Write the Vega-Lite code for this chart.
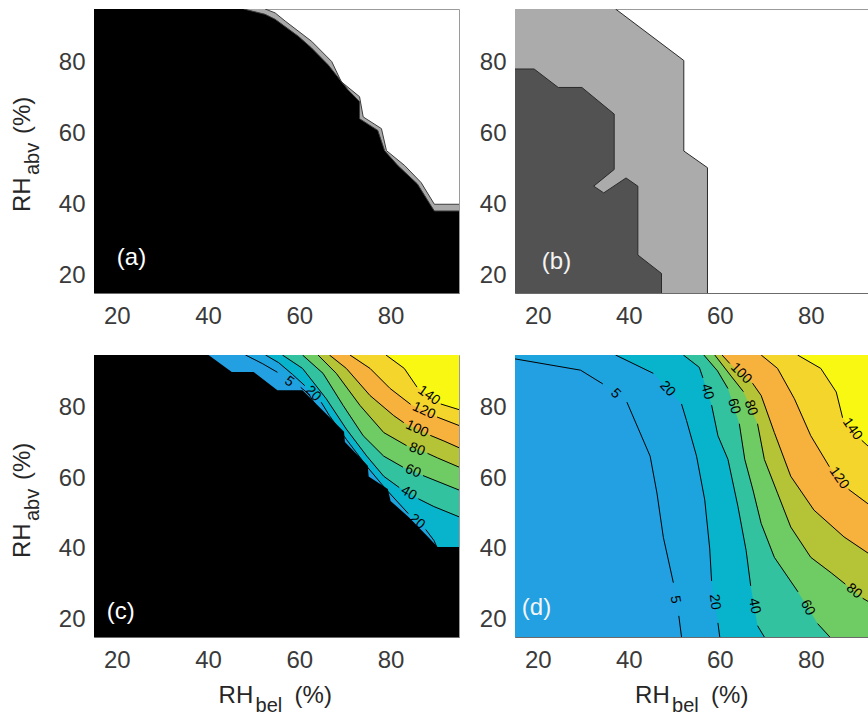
{
"$schema": "https://vega.github.io/schema/vega-lite/v6.json",
"padding": {"left": 10, "top": 8, "right": 0, "bottom": 0},
"columns": 2,
"spacing": {"row": 62, "column": 56},
"bounds": "flush",
"resolve": {"scale": {"fill": "independent"}},
"datasets": {
"pa": [
{"g":"G","i":1,"x":52.5,"y":95,"e":1},{"g":"G","i":2,"x":54.7,"y":93.9,"e":1},{"g":"G","i":3,"x":56.9,"y":91.6,"e":1},{"g":"G","i":4,"x":62.7,"y":85.9,"e":1},{"g":"G","i":5,"x":67.1,"y":80.2,"e":1},{"g":"G","i":6,"x":69.2,"y":74.5,"e":1},{"g":"G","i":7,"x":73.2,"y":70.3,"e":1},{"g":"G","i":8,"x":74.0,"y":64.6,"e":1},{"g":"G","i":9,"x":78.0,"y":61.3,"e":1},{"g":"G","i":10,"x":79.1,"y":55.1,"e":1},{"g":"G","i":11,"x":83.1,"y":50.9,"e":1},{"g":"G","i":12,"x":86.7,"y":46.1,"e":1},{"g":"G","i":13,"x":89.6,"y":40.0,"e":1},{"g":"G","i":14,"x":95,"y":40.0,"e":1},{"g":"G","i":15,"x":95,"y":15,"e":0},{"g":"G","i":16,"x":15,"y":15,"e":0},{"g":"G","i":17,"x":15,"y":95,"e":0},
{"g":"K","i":1,"x":47.8,"y":95,"e":1},{"g":"K","i":2,"x":52.5,"y":93.5,"e":1},{"g":"K","i":3,"x":54.7,"y":92.1,"e":1},{"g":"K","i":4,"x":59.8,"y":87.3,"e":1},{"g":"K","i":5,"x":62.7,"y":84.0,"e":1},{"g":"K","i":6,"x":66.3,"y":79.3,"e":1},{"g":"K","i":7,"x":70.7,"y":72.2,"e":1},{"g":"K","i":8,"x":73.2,"y":68.9,"e":1},{"g":"K","i":9,"x":73.2,"y":64.1,"e":1},{"g":"K","i":10,"x":77.2,"y":60.8,"e":1},{"g":"K","i":11,"x":78.7,"y":55.1,"e":1},{"g":"K","i":12,"x":81.6,"y":50.9,"e":1},{"g":"K","i":13,"x":85.9,"y":45.7,"e":1},{"g":"K","i":14,"x":88.9,"y":39.5,"e":1},{"g":"K","i":15,"x":89.6,"y":38.1,"e":1},{"g":"K","i":16,"x":95,"y":38.1,"e":1},{"g":"K","i":17,"x":95,"y":15,"e":0},{"g":"K","i":18,"x":15,"y":15,"e":0},{"g":"K","i":19,"x":15,"y":95,"e":0}
],
"pb": [
{"g":"L","i":1,"x":37.1,"y":95,"e":1},{"g":"L","i":2,"x":52.1,"y":80.5,"e":1},{"g":"L","i":3,"x":52.1,"y":55.0,"e":1},{"g":"L","i":4,"x":57.3,"y":50.3,"e":1},{"g":"L","i":5,"x":57.3,"y":15,"e":1},{"g":"L","i":6,"x":15,"y":15,"e":0},{"g":"L","i":7,"x":15,"y":95,"e":0},
{"g":"D","i":1,"x":15,"y":78.1,"e":1},{"g":"D","i":2,"x":19.2,"y":78.1,"e":1},{"g":"D","i":3,"x":24.5,"y":72.9,"e":1},{"g":"D","i":4,"x":29.7,"y":72.9,"e":1},{"g":"D","i":5,"x":36.8,"y":65.4,"e":1},{"g":"D","i":6,"x":36.8,"y":49.8,"e":1},{"g":"D","i":7,"x":32.3,"y":45.1,"e":1},{"g":"D","i":8,"x":34.5,"y":43.2,"e":1},{"g":"D","i":9,"x":39.4,"y":47.4,"e":1},{"g":"D","i":10,"x":42.0,"y":45.1,"e":1},{"g":"D","i":11,"x":42.0,"y":25.7,"e":1},{"g":"D","i":12,"x":47.2,"y":20.5,"e":1},{"g":"D","i":13,"x":47.2,"y":15,"e":1},{"g":"D","i":14,"x":15,"y":15,"e":0}
],
"pc": [
{"c":0,"s":0,"i":1,"x":15,"y":15},{"c":0,"s":0,"i":2,"x":95,"y":15},{"c":0,"s":0,"i":3,"x":95,"y":95},{"c":0,"s":0,"i":4,"x":15,"y":95},
{"c":5,"s":1,"i":1,"x":48.2,"y":95},{"c":5,"s":1,"i":2,"x":52,"y":92.5},{"c":5,"s":1,"i":3,"x":55.2,"y":90.1},{"c":5,"s":2,"i":4,"x":60.3,"y":85.8},{"c":5,"s":2,"i":5,"x":62,"y":84},{"c":5,"s":2,"i":6,"x":64,"y":80},{"c":5,"s":0,"i":7,"x":95,"y":15},{"c":5,"s":0,"i":8,"x":95,"y":95},
{"c":20,"s":1,"i":1,"x":52.6,"y":95},{"c":20,"s":1,"i":2,"x":55.5,"y":92.8},{"c":20,"s":1,"i":3,"x":58.5,"y":89.5},{"c":20,"s":1,"i":4,"x":61.2,"y":86.3},{"c":20,"s":2,"i":5,"x":64.8,"y":81.6},{"c":20,"s":2,"i":6,"x":66.6,"y":77.8},{"c":20,"s":2,"i":7,"x":70.3,"y":71.1},{"c":20,"s":2,"i":8,"x":74.8,"y":63.4},{"c":20,"s":2,"i":9,"x":78.8,"y":57.2},{"c":20,"s":2,"i":10,"x":83.9,"y":50},{"c":20,"s":3,"i":11,"x":87.7,"y":45.5},{"c":20,"s":3,"i":12,"x":89.5,"y":42.4},{"c":20,"s":3,"i":13,"x":91,"y":38},{"c":20,"s":0,"i":14,"x":95,"y":15},{"c":20,"s":0,"i":15,"x":95,"y":95},
{"c":40,"s":1,"i":1,"x":56.3,"y":95},{"c":40,"s":1,"i":2,"x":60.7,"y":91.2},{"c":40,"s":1,"i":3,"x":65.9,"y":82.6},{"c":40,"s":1,"i":4,"x":70.3,"y":74},{"c":40,"s":1,"i":5,"x":74.8,"y":66.3},{"c":40,"s":1,"i":6,"x":78.5,"y":60.6},{"c":40,"s":1,"i":7,"x":81.9,"y":57.4},{"c":40,"s":2,"i":8,"x":86.1,"y":54.2},{"c":40,"s":2,"i":9,"x":89.5,"y":52},{"c":40,"s":2,"i":10,"x":95,"y":49.1},{"c":40,"s":0,"i":11,"x":95,"y":95},
{"c":60,"s":1,"i":1,"x":60.7,"y":95},{"c":60,"s":1,"i":2,"x":65.2,"y":89.8},{"c":60,"s":1,"i":3,"x":69.6,"y":80.7},{"c":60,"s":1,"i":4,"x":74,"y":72.1},{"c":60,"s":1,"i":5,"x":78.5,"y":66.3},{"c":60,"s":1,"i":6,"x":82.7,"y":63.2},{"c":60,"s":2,"i":7,"x":87.1,"y":60.8},{"c":60,"s":2,"i":8,"x":95,"y":56.7},{"c":60,"s":0,"i":9,"x":95,"y":95},
{"c":80,"s":1,"i":1,"x":64.1,"y":95},{"c":80,"s":1,"i":2,"x":68.1,"y":89.8},{"c":80,"s":1,"i":3,"x":73.3,"y":80.7},{"c":80,"s":1,"i":4,"x":78.5,"y":73},{"c":80,"s":1,"i":5,"x":83.5,"y":69.3},{"c":80,"s":2,"i":6,"x":88.1,"y":67.1},{"c":80,"s":2,"i":7,"x":90.3,"y":65.8},{"c":80,"s":2,"i":8,"x":95,"y":63.2},{"c":80,"s":0,"i":9,"x":95,"y":95},
{"c":100,"s":1,"i":1,"x":66.6,"y":95},{"c":100,"s":1,"i":2,"x":70.3,"y":91.2},{"c":100,"s":1,"i":3,"x":75.5,"y":83.5},{"c":100,"s":1,"i":4,"x":80.7,"y":77.8},{"c":100,"s":1,"i":5,"x":82.9,"y":75.8},{"c":100,"s":2,"i":6,"x":88.7,"y":72.2},{"c":100,"s":2,"i":7,"x":91.7,"y":70.6},{"c":100,"s":2,"i":8,"x":95,"y":68.7},{"c":100,"s":0,"i":9,"x":95,"y":95},
{"c":120,"s":1,"i":1,"x":71.1,"y":95},{"c":120,"s":1,"i":2,"x":75.5,"y":91.2},{"c":120,"s":1,"i":3,"x":79.9,"y":85.5},{"c":120,"s":1,"i":4,"x":84.4,"y":81.0},{"c":120,"s":2,"i":5,"x":90.2,"y":77.4},{"c":120,"s":2,"i":6,"x":95,"y":75.0},{"c":120,"s":0,"i":7,"x":95,"y":95},
{"c":140,"s":1,"i":1,"x":79,"y":95},{"c":140,"s":1,"i":2,"x":83,"y":91.2},{"c":140,"s":1,"i":3,"x":85.8,"y":85.9},{"c":140,"s":2,"i":4,"x":91,"y":81.1},{"c":140,"s":2,"i":5,"x":95,"y":79.5},{"c":140,"s":0,"i":6,"x":95,"y":95}
],
"pcm": [
{"i":1,"x":40.1,"y":95},{"i":2,"x":45.2,"y":90.2},{"i":3,"x":50,"y":90.2},{"i":4,"x":55.2,"y":85},{"i":5,"x":60.7,"y":85},{"i":6,"x":65.2,"y":79.2},{"i":7,"x":69.8,"y":73.2},{"i":8,"x":70,"y":70.3},{"i":9,"x":75,"y":63.6},{"i":10,"x":75.2,"y":60.5},{"i":11,"x":79.4,"y":57},{"i":12,"x":80,"y":53.6},{"i":13,"x":84,"y":49},{"i":14,"x":88.5,"y":43},{"i":15,"x":90.3,"y":40.5},{"i":16,"x":95,"y":40.5},{"i":17,"x":95,"y":15},{"i":18,"x":15,"y":15},{"i":19,"x":15,"y":95}
],
"pcl": [
{"t":"140","x":88.4,"y":83.5,"a":36},{"t":"120","x":87.3,"y":79.2,"a":25},{"t":"100","x":85.8,"y":74.0,"a":25},{"t":"80","x":85.8,"y":68.2,"a":20},{"t":"60","x":84.9,"y":62.0,"a":22},{"t":"40","x":84.0,"y":55.8,"a":30},{"t":"20","x":85.8,"y":47.7,"a":40},{"t":"5","x":57.8,"y":87.4,"a":35},{"t":"20","x":63.0,"y":84.0,"a":45}
],
"pd": [
{"c":0,"s":0,"i":1,"x":15,"y":15},{"c":0,"s":0,"i":2,"x":95,"y":15},{"c":0,"s":0,"i":3,"x":95,"y":95},{"c":0,"s":0,"i":4,"x":15,"y":95},
{"c":5,"s":1,"i":1,"x":15,"y":93.9},{"c":5,"s":1,"i":2,"x":29.4,"y":90.7},{"c":5,"s":1,"i":3,"x":34.3,"y":86.8},{"c":5,"s":2,"i":4,"x":39.6,"y":81.6},{"c":5,"s":2,"i":5,"x":44.7,"y":66.3},{"c":5,"s":2,"i":6,"x":46.2,"y":55.8},{"c":5,"s":2,"i":7,"x":47.6,"y":43.3},{"c":5,"s":2,"i":8,"x":49.8,"y":30.4},{"c":5,"s":3,"i":9,"x":51.0,"y":21.0},{"c":5,"s":3,"i":10,"x":51.6,"y":15},{"c":5,"s":0,"i":11,"x":95,"y":15},{"c":5,"s":0,"i":12,"x":95,"y":95},{"c":5,"s":0,"i":13,"x":15,"y":95},
{"c":20,"s":1,"i":1,"x":37.1,"y":95},{"c":20,"s":1,"i":2,"x":45.4,"y":89.8},{"c":20,"s":2,"i":3,"x":51.6,"y":81.1},{"c":20,"s":2,"i":4,"x":52.7,"y":76.4},{"c":20,"s":2,"i":5,"x":54.9,"y":66.3},{"c":20,"s":2,"i":6,"x":56.7,"y":53.9},{"c":20,"s":2,"i":7,"x":57.8,"y":40},{"c":20,"s":2,"i":8,"x":58.2,"y":30.9},{"c":20,"s":3,"i":9,"x":59.6,"y":19.0},{"c":20,"s":3,"i":10,"x":60,"y":15},{"c":20,"s":0,"i":11,"x":95,"y":15},{"c":20,"s":0,"i":12,"x":95,"y":95},
{"c":40,"s":1,"i":1,"x":52,"y":95},{"c":40,"s":1,"i":2,"x":55.5,"y":91.5},{"c":40,"s":1,"i":3,"x":56.3,"y":88.5},{"c":40,"s":2,"i":4,"x":58.2,"y":80.8},{"c":40,"s":2,"i":5,"x":59.6,"y":72.1},{"c":40,"s":2,"i":6,"x":61.8,"y":65.4},{"c":40,"s":2,"i":7,"x":64,"y":52},{"c":40,"s":2,"i":8,"x":65.8,"y":39.5},{"c":40,"s":2,"i":9,"x":66.8,"y":29.5},{"c":40,"s":3,"i":10,"x":68.3,"y":18.2},{"c":40,"s":3,"i":11,"x":69.8,"y":15},{"c":40,"s":0,"i":12,"x":95,"y":15},{"c":40,"s":0,"i":13,"x":95,"y":95},
{"c":60,"s":1,"i":1,"x":56.5,"y":95},{"c":60,"s":1,"i":2,"x":59.5,"y":90.5},{"c":60,"s":1,"i":3,"x":61.8,"y":85.5},{"c":60,"s":2,"i":4,"x":64.3,"y":75.5},{"c":60,"s":2,"i":5,"x":65.5,"y":65.4},{"c":60,"s":2,"i":6,"x":67.3,"y":56.7},{"c":60,"s":2,"i":7,"x":69.1,"y":47.2},{"c":60,"s":2,"i":8,"x":72,"y":37.6},{"c":60,"s":2,"i":9,"x":77.2,"y":27.8},{"c":60,"s":3,"i":10,"x":81.5,"y":18.8},{"c":60,"s":3,"i":11,"x":84.2,"y":15},{"c":60,"s":0,"i":12,"x":95,"y":15},{"c":60,"s":0,"i":13,"x":95,"y":95},
{"c":80,"s":1,"i":1,"x":58.9,"y":95},{"c":80,"s":1,"i":2,"x":62.5,"y":89},{"c":80,"s":1,"i":3,"x":65.2,"y":84.6},{"c":80,"s":2,"i":4,"x":68.3,"y":75.5},{"c":80,"s":2,"i":5,"x":69.8,"y":65.4},{"c":80,"s":2,"i":6,"x":72.7,"y":55.8},{"c":80,"s":2,"i":7,"x":75.6,"y":46.2},{"c":80,"s":2,"i":8,"x":80,"y":37.6},{"c":80,"s":2,"i":9,"x":84.5,"y":33.2},{"c":80,"s":2,"i":10,"x":87.6,"y":30},{"c":80,"s":3,"i":11,"x":91.4,"y":26},{"c":80,"s":3,"i":12,"x":95,"y":23.3},{"c":80,"s":0,"i":13,"x":95,"y":95},
{"c":100,"s":1,"i":1,"x":60.5,"y":95},{"c":100,"s":1,"i":2,"x":62.2,"y":92.6},{"c":100,"s":2,"i":3,"x":67.2,"y":87},{"c":100,"s":2,"i":4,"x":69.1,"y":83.5},{"c":100,"s":2,"i":5,"x":72,"y":73},{"c":100,"s":2,"i":6,"x":75.6,"y":60.6},{"c":100,"s":2,"i":7,"x":80.7,"y":51},{"c":100,"s":2,"i":8,"x":87.3,"y":43.4},{"c":100,"s":2,"i":9,"x":93.4,"y":38.1},{"c":100,"s":2,"i":10,"x":95,"y":36.8},{"c":100,"s":0,"i":11,"x":95,"y":95},
{"c":120,"s":1,"i":1,"x":69.1,"y":95},{"c":120,"s":1,"i":2,"x":72.7,"y":91.2},{"c":120,"s":1,"i":3,"x":76.4,"y":82.6},{"c":120,"s":1,"i":4,"x":80,"y":72.1},{"c":120,"s":1,"i":5,"x":84.1,"y":63.3},{"c":120,"s":2,"i":6,"x":88.3,"y":56.9},{"c":120,"s":2,"i":7,"x":93.4,"y":52},{"c":120,"s":2,"i":8,"x":95,"y":50.8},{"c":120,"s":0,"i":9,"x":95,"y":95},
{"c":140,"s":1,"i":1,"x":77.1,"y":95},{"c":140,"s":1,"i":2,"x":82.2,"y":91.2},{"c":140,"s":1,"i":3,"x":85.6,"y":84.5},{"c":140,"s":1,"i":4,"x":87,"y":77.2},{"c":140,"s":2,"i":5,"x":91.2,"y":70.8},{"c":140,"s":2,"i":6,"x":93.4,"y":68.2},{"c":140,"s":2,"i":7,"x":95,"y":67.3},{"c":140,"s":0,"i":8,"x":95,"y":95}
],
"pdl": [
{"t":"5","x":37.1,"y":84.0,"a":45},{"t":"5","x":50.2,"y":25.6,"a":80},{"t":"20","x":48.5,"y":85.4,"a":47},{"t":"20","x":58.9,"y":24.9,"a":83},{"t":"40","x":57.2,"y":84.6,"a":75},{"t":"40","x":67.6,"y":23.8,"a":80},{"t":"60","x":63.1,"y":80.5,"a":75},{"t":"60","x":79.3,"y":23.3,"a":62},{"t":"80","x":66.8,"y":80.0,"a":72},{"t":"80","x":89.5,"y":28.0,"a":40},{"t":"100","x":64.7,"y":89.8,"a":45},{"t":"120","x":86.2,"y":60.1,"a":55},{"t":"140","x":89.1,"y":74.0,"a":55}
],
"ann": [
{"k":"pa","t":"(a)","x":20,"y":25},{"k":"pb","t":"(b)","x":20.9,"y":23.7},{"k":"pc","t":"(c)","x":17.8,"y":22.1},{"k":"pd","t":"(d)","x":16.5,"y":23.2},
{"k":"ya","x":1.0,"y":37.8},{"k":"yc","x":1.0,"y":37.4},{"k":"xc","x":42.3,"y":-3.7},{"k":"xd","x":41.4,"y":-3.7}
]
},
"concat": [
{
"width": 365, "height": 284,
"encoding": {
"x": {"field":"x","type":"quantitative","scale":{"domain":[15,95],"nice":false,"zero":false},"axis":{"values":[20,40,60,80],"title":null}},
"y": {"field":"y","type":"quantitative","scale":{"domain":[15,95],"nice":false,"zero":false},"axis":{"values":[20,40,60,80],"title":null}}
},
"layer": [
{"data":{"name":"pa"},"mark":{"type":"line","clip":true,"strokeWidth":0,"strokeOpacity":0},
 "encoding":{"fill":{"field":"g","type":"nominal","scale":{"domain":["G","K"],"range":["#a9a9a9","#000000"]},"legend":null},"order":{"field":"i","type":"quantitative"}}},
{"data":{"name":"pa"},"transform":[{"filter":"datum.e == 1"}],"mark":{"type":"line","clip":true,"color":"#3c3c3c","strokeWidth":1},
 "encoding":{"detail":{"field":"g","type":"nominal"},"order":{"field":"i","type":"quantitative"}}},
{"data":{"name":"ann"},"transform":[{"filter":"datum.k == 'pa'"}],"mark":{"type":"text","color":"#ffffff","fontSize":24,"align":"left","baseline":"middle"},
 "encoding":{"text":{"field":"t","type":"nominal"}}},
{"data":{"name":"ann"},"transform":[{"filter":"datum.k == 'ya'"}],"mark":{"type":"text","text":"RH","angle":270,"color":"#262626","fontSize":24,"align":"left","baseline":"alphabetic"}},
{"data":{"name":"ann"},"transform":[{"filter":"datum.k == 'ya'"}],"mark":{"type":"text","text":"abv","angle":270,"color":"#262626","fontSize":20,"align":"left","baseline":"alphabetic","dx":37,"dy":9}},
{"data":{"name":"ann"},"transform":[{"filter":"datum.k == 'ya'"}],"mark":{"type":"text","text":"(%)","angle":270,"color":"#262626","fontSize":24,"align":"left","baseline":"alphabetic","dx":78,"dy":0}}
]
},
{
"width": 354, "height": 284,
"encoding": {
"x": {"field":"x","type":"quantitative","scale":{"domain":[15,92.8],"nice":false,"zero":false},"axis":{"values":[20,40,60,80],"title":null}},
"y": {"field":"y","type":"quantitative","scale":{"domain":[15,95],"nice":false,"zero":false},"axis":{"values":[20,40,60,80],"title":null}}
},
"layer": [
{"data":{"name":"pb"},"mark":{"type":"line","clip":true,"strokeWidth":0,"strokeOpacity":0},
 "encoding":{"fill":{"field":"g","type":"nominal","scale":{"domain":["L","D"],"range":["#ababab","#525252"]},"legend":null},"order":{"field":"i","type":"quantitative"}}},
{"data":{"name":"pb"},"transform":[{"filter":"datum.e == 1"}],"mark":{"type":"line","clip":true,"color":"#2a2a2a","strokeWidth":1},
 "encoding":{"detail":{"field":"g","type":"nominal"},"order":{"field":"i","type":"quantitative"}}},
{"data":{"name":"ann"},"transform":[{"filter":"datum.k == 'pb'"}],"mark":{"type":"text","color":"#f4f4f4","fontSize":24,"align":"left","baseline":"middle"},
 "encoding":{"text":{"field":"t","type":"nominal"}}}
]
},
{
"width": 365, "height": 282,
"encoding": {
"x": {"field":"x","type":"quantitative","scale":{"domain":[15,95],"nice":false,"zero":false},"axis":{"values":[20,40,60,80],"title":null}},
"y": {"field":"y","type":"quantitative","scale":{"domain":[15,95],"nice":false,"zero":false},"axis":{"values":[20,40,60,80],"title":null}}
},
"layer": [
{"data":{"name":"pc"},"mark":{"type":"line","clip":true,"strokeWidth":0,"strokeOpacity":0},
 "encoding":{"fill":{"field":"c","type":"ordinal","scale":{"domain":[0,5,20,40,60,80,100,120,140],"range":["#22a0e2","#1da4de","#07b4cc","#32c2a0","#6fcb63","#b5c337","#f6b23d","#f3d52c","#f9f812"]},"legend":null},"order":{"field":"i","type":"quantitative"}}},
{"data":{"name":"pc"},"transform":[{"filter":"datum.s > 0"}],"mark":{"type":"line","clip":true,"color":"#000000","strokeWidth":1},
 "encoding":{"detail":[{"field":"c","type":"nominal"},{"field":"s","type":"nominal"}],"order":{"field":"i","type":"quantitative"}}},
{"data":{"name":"pcm"},"mark":{"type":"line","clip":true,"strokeWidth":0,"strokeOpacity":0,"fill":"#000000"},
 "encoding":{"order":{"field":"i","type":"quantitative"}}},
{"data":{"name":"pcl"},"mark":{"type":"text","fontSize":14,"color":"#000000","align":"center","baseline":"middle"},
 "encoding":{"text":{"field":"t","type":"nominal"},"angle":{"field":"a","type":"quantitative","scale":null}}},
{"data":{"name":"ann"},"transform":[{"filter":"datum.k == 'pc'"}],"mark":{"type":"text","color":"#ffffff","fontSize":24,"align":"left","baseline":"middle"},
 "encoding":{"text":{"field":"t","type":"nominal"}}},
{"data":{"name":"ann"},"transform":[{"filter":"datum.k == 'yc'"}],"mark":{"type":"text","text":"RH","angle":270,"color":"#262626","fontSize":24,"align":"left","baseline":"alphabetic"}},
{"data":{"name":"ann"},"transform":[{"filter":"datum.k == 'yc'"}],"mark":{"type":"text","text":"abv","angle":270,"color":"#262626","fontSize":20,"align":"left","baseline":"alphabetic","dx":37,"dy":9}},
{"data":{"name":"ann"},"transform":[{"filter":"datum.k == 'yc'"}],"mark":{"type":"text","text":"(%)","angle":270,"color":"#262626","fontSize":24,"align":"left","baseline":"alphabetic","dx":78,"dy":0}},
{"data":{"name":"ann"},"transform":[{"filter":"datum.k == 'xc'"}],"mark":{"type":"text","text":"RH","color":"#262626","fontSize":24,"align":"left","baseline":"alphabetic"}},
{"data":{"name":"ann"},"transform":[{"filter":"datum.k == 'xc'"}],"mark":{"type":"text","text":"bel","color":"#262626","fontSize":20,"align":"left","baseline":"alphabetic","dx":37,"dy":9}},
{"data":{"name":"ann"},"transform":[{"filter":"datum.k == 'xc'"}],"mark":{"type":"text","text":"(%)","color":"#262626","fontSize":24,"align":"left","baseline":"alphabetic","dx":76}}
]
},
{
"width": 354, "height": 282,
"encoding": {
"x": {"field":"x","type":"quantitative","scale":{"domain":[15,92.8],"nice":false,"zero":false},"axis":{"values":[20,40,60,80],"title":null}},
"y": {"field":"y","type":"quantitative","scale":{"domain":[15,95],"nice":false,"zero":false},"axis":{"values":[20,40,60,80],"title":null}}
},
"layer": [
{"data":{"name":"pd"},"mark":{"type":"line","clip":true,"strokeWidth":0,"strokeOpacity":0},
 "encoding":{"fill":{"field":"c","type":"ordinal","scale":{"domain":[0,5,20,40,60,80,100,120,140],"range":["#22a0e2","#1da4de","#07b4cc","#32c2a0","#6fcb63","#b5c337","#f6b23d","#f3d52c","#f9f812"]},"legend":null},"order":{"field":"i","type":"quantitative"}}},
{"data":{"name":"pd"},"transform":[{"filter":"datum.s > 0"}],"mark":{"type":"line","clip":true,"color":"#000000","strokeWidth":1},
 "encoding":{"detail":[{"field":"c","type":"nominal"},{"field":"s","type":"nominal"}],"order":{"field":"i","type":"quantitative"}}},
{"data":{"name":"pdl"},"mark":{"type":"text","fontSize":14,"color":"#000000","align":"center","baseline":"middle"},
 "encoding":{"text":{"field":"t","type":"nominal"},"angle":{"field":"a","type":"quantitative","scale":null}}},
{"data":{"name":"ann"},"transform":[{"filter":"datum.k == 'pd'"}],"mark":{"type":"text","color":"#f4f4f4","fontSize":24,"align":"left","baseline":"middle"},
 "encoding":{"text":{"field":"t","type":"nominal"}}},
{"data":{"name":"ann"},"transform":[{"filter":"datum.k == 'xd'"}],"mark":{"type":"text","text":"RH","color":"#262626","fontSize":24,"align":"left","baseline":"alphabetic"}},
{"data":{"name":"ann"},"transform":[{"filter":"datum.k == 'xd'"}],"mark":{"type":"text","text":"bel","color":"#262626","fontSize":20,"align":"left","baseline":"alphabetic","dx":37,"dy":9}},
{"data":{"name":"ann"},"transform":[{"filter":"datum.k == 'xd'"}],"mark":{"type":"text","text":"(%)","color":"#262626","fontSize":24,"align":"left","baseline":"alphabetic","dx":76}}
]
}
],
"config": {
"font": "Liberation Sans",
"view": {"stroke": "#9a9a9a", "strokeWidth": 1},
"axis": {"labelFont": "Liberation Sans", "labelFontSize": 24, "labelColor": "#3a3a3a", "ticks": false, "grid": false, "domain": true, "domainColor": "#6b6b6b", "domainWidth": 1, "zindex": 1},
"axisX": {"labelPadding": 11},
"axisY": {"labelPadding": 9},
"text": {"font": "Liberation Sans"}
}
}
